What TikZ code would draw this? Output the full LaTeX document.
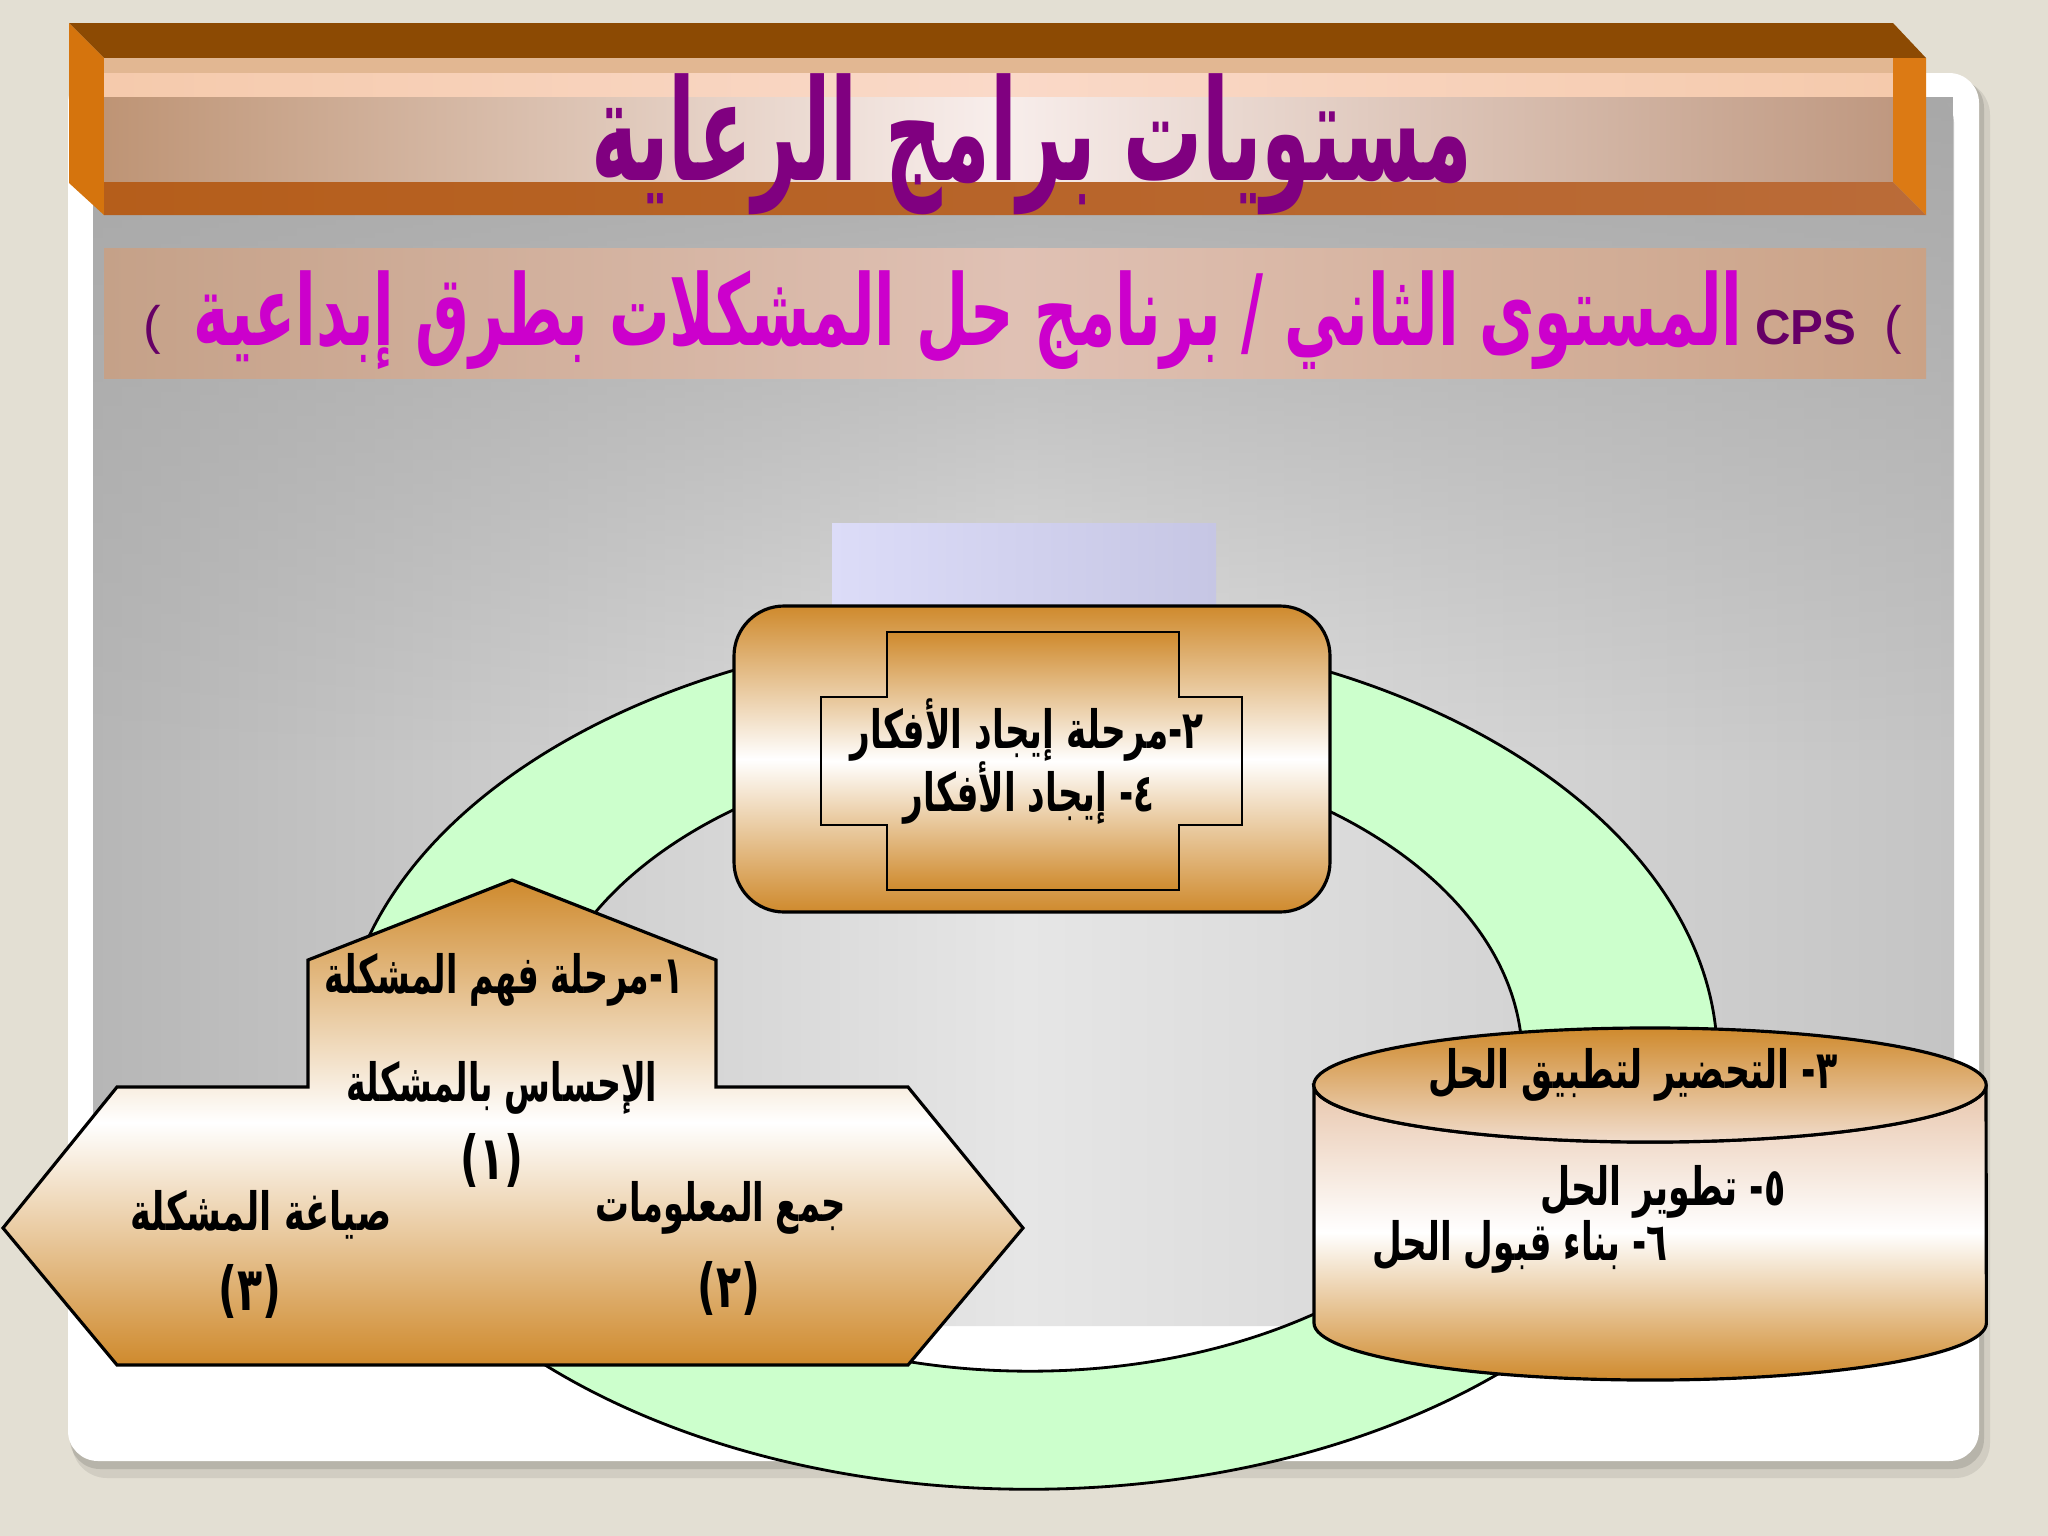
\documentclass[tikz,border=0pt]{standalone}
\usepackage{fontspec}
\usepackage{graphicx}
\usepackage{tikz}
\usetikzlibrary{fadings}
\TeXXeTstate=1
\newfontfamily\arfont[Script=Arabic]{DejaVu Sans}
\newfontfamily\latfont{Liberation Sans}
\newcommand\artxt[2][0.65]{\scalebox{#1}[1]{\beginR #2\endR}}
\newcommand\numtxt[1]{\scalebox{0.78}[1.15]{#1}}
\definecolor{pagebg}{HTML}{E3DFD3}
\definecolor{panl}{HTML}{B6B6B6}
\definecolor{panm}{HTML}{E6E6E6}
\definecolor{panr}{HTML}{C4C4C4}
\definecolor{pantop}{HTML}{A8A8A8}
\definecolor{bantop}{HTML}{8C4A03}
\definecolor{banside}{HTML}{D5740D}
\definecolor{banright}{HTML}{DC7A14}
\definecolor{banda}{HTML}{E2B792}
\definecolor{bandb}{HTML}{F5CAAC}
\definecolor{bandbm}{HTML}{FAD9C8}
\definecolor{banl}{HTML}{BE9475}
\definecolor{banm}{HTML}{F8EEEC}
\definecolor{banr}{HTML}{BF9880}
\definecolor{botl}{HTML}{B55E1B}
\definecolor{botr}{HTML}{BA6B38}
\definecolor{subl}{HTML}{C5A188}
\definecolor{subm}{HTML}{E0C1B4}
\definecolor{subr}{HTML}{CAA286}
\definecolor{lavl}{HTML}{DCDCF8}
\definecolor{lavr}{HTML}{C6C6E4}
\definecolor{ringgreen}{HTML}{CCFFCC}
\definecolor{copper}{HTML}{CF8A2D}
\definecolor{peach}{HTML}{E8C6AC}
\definecolor{titlepurple}{HTML}{800080}
\definecolor{submagenta}{HTML}{CC00CC}
\definecolor{cpsdark}{HTML}{660066}

\begin{document}
\begin{tikzpicture}[x=0.01cm,y=0.01cm,
  lbl/.style={font=\arfont\bfseries\fontsize{15}{18}\selectfont, inner sep=0pt},
  shp/.style={draw=black, line width=0.9pt, top color=copper, bottom color=copper, middle color=white}]
\useasboundingbox (0,0) rectangle (2048,-1536);
\fill[pagebg] (0,0) rectangle (2048,-1536);
\fill[black, opacity=0.08, rounded corners=0.35cm] (72,-80) rectangle (1990,-1478);
\fill[black, opacity=0.12, rounded corners=0.3cm] (70,-78) rectangle (1984,-1469);
\fill[white, rounded corners=0.3cm] (68,-73) rectangle (1979,-1461);
\shade[left color=panl, right color=panr, middle color=panm, rounded corners=0.25cm] (93,-97) rectangle (1954,-1326);
\fill[pantop, path fading=south] (93,-97) rectangle (1954,-760);

\fill[bantop] (69,-23) -- (1893,-23) -- (1926,-58) -- (104,-58) -- cycle;
\fill[banside] (69,-23) -- (104,-58) -- (104,-215) -- (69,-183) -- cycle;
\fill[banda] (104,-58) rectangle (1893,-73);
\shade[left color=bandb, right color=bandb, middle color=bandbm] (104,-73) rectangle (1893,-97);
\shade[left color=banl, right color=banr, middle color=banm] (104,-97) rectangle (1893,-182);
\shade[left color=botl, right color=botr] (104,-182) -- (1893,-182) -- (1926,-215) -- (104,-215) -- cycle;
\fill[banright] (1893,-58) -- (1926,-58) -- (1926,-215) -- (1893,-182) -- cycle;
\node[font=\arfont\bfseries\fontsize{40}{48}\selectfont, text=titlepurple, inner sep=0pt] (title) at (1032,-144) {\artxt[0.56]{مستويات برامج الرعاية}};

\shade[left color=subl, right color=subr, middle color=subm] (104,-248) rectangle (1926,-378);
\node[font=\arfont\bfseries\fontsize{28}{34}\selectfont, text=submagenta, inner sep=0pt] (subtitle) at (968,-320) {\artxt[0.612]{المستوى الثاني / برنامج حل المشكلات بطرق إبداعية}};
\node[font=\latfont\bfseries\fontsize{14}{16}\selectfont, text=cpsdark, inner sep=0pt] (cps) at (1806,-328) {CPS};
\node[font=\latfont\fontsize{15}{18}\selectfont, text=cpsdark, inner sep=0pt] (parenr) at (1893,-330) {(};
\node[font=\latfont\fontsize{15}{18}\selectfont, text=cpsdark, inner sep=0pt] (parenl) at (152,-330) {(};

\shade[left color=lavl, right color=lavr] (832,-523) rectangle (1216,-610);

\fill[ringgreen, even odd rule] (1029,-1059) ellipse [x radius=6.88cm, y radius=4.3cm] (1030,-1059) ellipse [x radius=4.92cm, y radius=3.12cm];
\draw[line width=0.8pt] (1029,-1059) ellipse [x radius=6.88cm, y radius=4.3cm];
\draw[line width=0.8pt] (1030,-1059) ellipse [x radius=4.92cm, y radius=3.12cm];

\path[shp, rounded corners=0.5cm] (734,-606) rectangle (1330,-912);
\path[shp, line width=0.6pt] (887,-632) -- (1179,-632) -- (1179,-697) -- (1242,-697) -- (1242,-825) -- (1179,-825) -- (1179,-890) -- (887,-890) -- (887,-825) -- (821,-825) -- (821,-697) -- (887,-697) -- cycle;
\node[lbl] (ideas1) at (1027,-730) {\artxt{٢-مرحلة إيجاد الأفكار}};
\node[lbl] (ideas2) at (1029,-793) {\artxt{٤- إيجاد الأفكار}};

\path[shp] (512,-880) -- (716,-960) -- (716,-1087) -- (908,-1087) -- (1023,-1228) -- (908,-1365) -- (117,-1365) -- (3,-1228) -- (117,-1087) -- (308,-1087) -- (308,-960) -- cycle;
\node[lbl] (understand) at (504,-980) {\artxt[0.63]{١-مرحلة فهم المشكلة}};
\node[lbl] (sense) at (502,-1088) {\artxt[0.63]{الإحساس بالمشكلة}};
\node[lbl] (sensenum) at (492,-1160) {\numtxt{(١)}};
\node[lbl] (formulate) at (261,-1215) {\artxt[0.67]{صياغة المشكلة}};
\node[lbl] (formulatenum) at (250,-1291) {\numtxt{(٣)}};
\node[lbl] (gather) at (721,-1208) {\artxt[0.64]{جمع المعلومات}};
\node[lbl] (gathernum) at (729,-1288) {\numtxt{(٢)}};

\path[draw=black, line width=0.9pt, top color=peach, bottom color=copper, middle color=white] (1314,-1085) -- (1314,-1323) arc[start angle=180, end angle=360, x radius=3.36cm, y radius=0.57cm] -- (1986,-1085) arc[start angle=0, end angle=-180, x radius=3.36cm, y radius=0.57cm] -- cycle;
\path[draw=black, line width=0.9pt, top color=copper, bottom color=peach!60!white] (1650,-1085) ellipse [x radius=3.36cm, y radius=0.57cm];
\node[lbl] (prepare) at (1633,-1075) {\artxt[0.66]{٣- التحضير لتطبيق الحل}};
\node[lbl] (develop) at (1663,-1192) {\artxt[0.66]{٥- تطوير الحل}};
\node[lbl] (accept) at (1520,-1247) {\artxt{٦- بناء قبول الحل}};
\end{tikzpicture}
\end{document}
